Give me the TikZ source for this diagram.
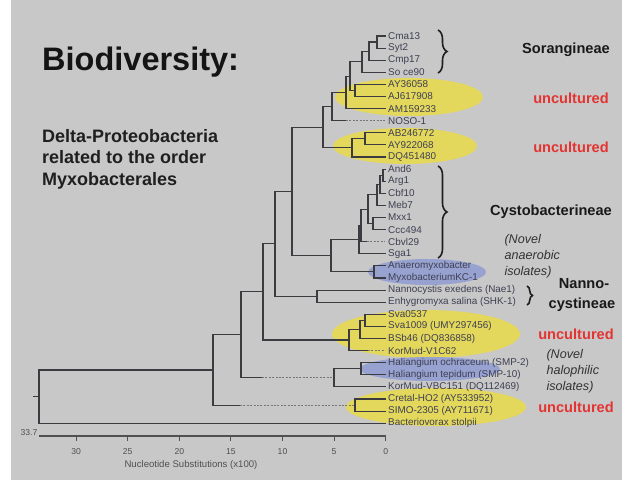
\documentclass[tikz,border=0pt]{standalone}
\usepackage{fontspec}
\setmainfont{Liberation Sans}
\usetikzlibrary{decorations.pathreplacing,calc}
\definecolor{bgc}{RGB}{200,200,200}
\definecolor{yelc}{RGB}{228,216,92}
\definecolor{bluc}{RGB}{152,162,208}
\definecolor{treec}{RGB}{60,60,64}
\definecolor{leafc}{RGB}{62,64,82}
\definecolor{redc}{RGB}{228,52,50}
\definecolor{axc}{RGB}{80,80,80}
\tikzset{
  leaf/.style={anchor=west, inner xsep=3pt, inner ysep=0pt, text=leafc, font=\fontsize{9.9}{10}\selectfont},
  br/.style={draw=treec, line width=1.1pt, line cap=rect},
  dsh/.style={draw=treec!70, line width=1.1pt, dash pattern=on 2pt off 1.4pt},
  grp/.style={font=\bfseries\fontsize{14.6}{16}\selectfont, text=black!90},
  unc/.style={font=\bfseries\fontsize{14.6}{16}\selectfont, text=redc},
  novel/.style={font=\itshape\fontsize{12.6}{16}\selectfont, text=black!80, align=left, anchor=west},
  brc/.style={draw=black!88, line width=1.6pt, decorate},
  tlab/.style={font=\fontsize{8.6}{10}\selectfont, text=axc}
}
\begin{document}
\begin{tikzpicture}[x=1pt,y=-1pt]
\useasboundingbox (0,0) rectangle (622,484);
\fill[white] (0,0) rectangle (622,484);
\fill[bgc] (11,0) rectangle (622,480);

% highlight ellipses
\fill[yelc] (409,97) ellipse [x radius=74pt, y radius=19pt];
\fill[yelc] (405,146) ellipse [x radius=72pt, y radius=18pt];
\fill[yelc] (426,334) ellipse [x radius=94pt, y radius=24pt];
\fill[yelc] (436,407) ellipse [x radius=90pt, y radius=19pt];
\fill[bluc] (427,272) ellipse [x radius=59pt, y radius=13pt];
\fill[bluc] (430,369) ellipse [x radius=70pt, y radius=12pt];

% titles
\node[anchor=base west, inner sep=0pt, font=\bfseries\fontsize{32.5}{36}\selectfont, text=black!92] (title) at (42,71) {Biodiversity:};
\node[anchor=north west, inner sep=0pt, align=left, font=\bfseries\fontsize{18}{21.5}\selectfont, text=black!88] (sub) at (42,129) {Delta-Proteobacteria\\related to the order\\Myxobacterales};

% leaves
\node[leaf] (L0) at (385,36.0) {Cma13};
\node[leaf] (L1) at (385,48.1) {Syt2};
\node[leaf] (L2) at (385,60.2) {Cmp17};
\node[leaf] (L3) at (385,72.3) {So ce90};
\node[leaf] (L4) at (385,84.4) {AY36058};
\node[leaf] (L5) at (385,96.5) {AJ617908};
\node[leaf] (L6) at (385,108.6) {AM159233};
\node[leaf] (L7) at (385,120.7) {NOSO-1};
\node[leaf] (L8) at (385,132.8) {AB246772};
\node[leaf] (L9) at (385,144.9) {AY922068};
\node[leaf] (L10) at (385,157.0) {DQ451480};
\node[leaf] (L11) at (385,169.1) {And6};
\node[leaf] (L12) at (385,181.2) {Arg1};
\node[leaf] (L13) at (385,193.3) {Cbf10};
\node[leaf] (L14) at (385,205.4) {Meb7};
\node[leaf] (L15) at (385,217.5) {Mxx1};
\node[leaf] (L16) at (385,229.6) {Ccc494};
\node[leaf] (L17) at (385,241.7) {Cbvl29};
\node[leaf] (L18) at (385,253.8) {Sga1};
\node[leaf] (L19) at (385,265.9) {Anaeromyxobacter};
\node[leaf] (L20) at (385,278.0) {MyxobacteriumKC-1};
\node[leaf] (L21) at (385,290.1) {Nannocystis exedens (Nae1)};
\node[leaf] (L22) at (385,302.2) {Enhygromyxa salina (SHK-1)};
\node[leaf] (L23) at (385,314.3) {Sva0537};
\node[leaf] (L24) at (385,326.4) {Sva1009 (UMY297456)};
\node[leaf] (L25) at (385,338.5) {BSb46 (DQ836858)};
\node[leaf] (L26) at (385,350.6) {KorMud-V1C62};
\node[leaf] (L27) at (385,362.7) {Haliangium ochraceum (SMP-2)};
\node[leaf] (L28) at (385,374.8) {Haliangium tepidum (SMP-10)};
\node[leaf] (L29) at (385,386.9) {KorMud-VBC151 (DQ112469)};
\node[leaf] (L30) at (385,399.0) {Cretal-HO2 (AY533952)};
\node[leaf] (L31) at (385,411.1) {SIMO-2305 (AY711671)};
\node[leaf] (L32) at (385,423.2) {Bacteriovorax stolpii};

% internal nodes
\coordinate (nCS) at (377,42.05);
\coordinate (nCSC) at (369,51.1);
\coordinate (nCSCS) at (362,61.7);
\coordinate (nAJ) at (355,90.45);
\coordinate (nSA) at (350,76.1);
\coordinate (nSAM) at (346,92.35);
\coordinate (nSN) at (332,106.5);
\coordinate (dNo) at (346,120.7);
\coordinate (nAB2) at (365,138.85);
\coordinate (nAB) at (352,147.9);
\coordinate (nTop) at (323,127.2);
\coordinate (nAA) at (383,175.15);
\coordinate (nAAC) at (380,184.2);
\coordinate (nAACM) at (377,194.8);
\coordinate (nMC) at (373,223.55);
\coordinate (nUp) at (368,209.2);
\coordinate (nCy1) at (361,225.45);
\coordinate (dCb) at (367,241.7);
\coordinate (nCy) at (359,239.6);
\coordinate (nAn) at (374,271.95);
\coordinate (n331) at (331,255.8);
\coordinate (n292) at (292,191.5);
\coordinate (nNa) at (317,296.15);
\coordinate (n275) at (275,243.8);
\coordinate (nSv3) at (365,320.35);
\coordinate (nSv2) at (360,329.4);
\coordinate (nSv) at (349,340);
\coordinate (dKo) at (368,350.6);
\coordinate (n263) at (263,291.9);
\coordinate (nHa2) at (361,368.75);
\coordinate (nHa) at (334,377.8);
\coordinate (dHa) at (262,377.8);
\coordinate (n241) at (241,334.9);
\coordinate (nCr) at (355,405.05);
\coordinate (dCr) at (240,405.05);
\coordinate (n213) at (213,370);
\coordinate (root) at (39,396.6);
\coordinate (stub) at (34,396.6);

% branches
\draw[br] (stub) -- (root);
\draw[br] (root) |- (n213);
\draw[br] (root) |- (L32.west);
\draw[br] (n213) |- (n241);
\draw[br] (n213) |- (dCr);
\draw[dsh] (dCr) -- (nCr);
\draw[br] (nCr) |- (L30.west);
\draw[br] (nCr) |- (L31.west);
\draw[br] (n241) |- (n263);
\draw[br] (n241) |- (dHa);
\draw[dsh] (dHa) -- (nHa);
\draw[br] (nHa) |- (nHa2);
\draw[br] (nHa) |- (L29.west);
\draw[br] (nHa2) |- (L27.west);
\draw[br] (nHa2) |- (L28.west);
\draw[br] (n263) |- (n275);
\draw[br] (n263) |- (nSv);
\draw[br] (nSv) |- (nSv2);
\draw[br] (nSv) |- (dKo);
\draw[dsh] (dKo) -- (L26.west);
\draw[br] (nSv2) |- (nSv3);
\draw[br] (nSv2) |- (L25.west);
\draw[br] (nSv3) |- (L23.west);
\draw[br] (nSv3) |- (L24.west);
\draw[br] (n275) |- (n292);
\draw[br] (n275) |- (nNa);
\draw[br] (nNa) |- (L21.west);
\draw[br] (nNa) |- (L22.west);
\draw[br] (n292) |- (nTop);
\draw[br] (n292) |- (n331);
\draw[br] (n331) |- (nCy);
\draw[br] (n331) |- (nAn);
\draw[br] (nAn) |- (L19.west);
\draw[br] (nAn) |- (L20.west);
\draw[br] (nCy) |- (nCy1);
\draw[br] (nCy) |- (L18.west);
\draw[br] (nCy1) |- (nUp);
\draw[br] (nCy1) |- (dCb);
\draw[dsh] (dCb) -- (L17.west);
\draw[br] (nUp) |- (nAACM);
\draw[br] (nUp) |- (nMC);
\draw[br] (nMC) |- (L15.west);
\draw[br] (nMC) |- (L16.west);
\draw[br] (nAACM) |- (nAAC);
\draw[br] (nAACM) |- (L14.west);
\draw[br] (nAAC) |- (nAA);
\draw[br] (nAAC) |- (L13.west);
\draw[br] (nAA) |- (L11.west);
\draw[br] (nAA) |- (L12.west);
\draw[br] (nTop) |- (nSN);
\draw[br] (nTop) |- (nAB);
\draw[br] (nAB) |- (nAB2);
\draw[br] (nAB) |- (L10.west);
\draw[br] (nAB2) |- (L8.west);
\draw[br] (nAB2) |- (L9.west);
\draw[br] (nSN) |- (nSAM);
\draw[br] (nSN) |- (dNo);
\draw[dsh] (dNo) -- (L7.west);
\draw[br] (nSAM) |- (nSA);
\draw[br] (nSAM) |- (L6.west);
\draw[br] (nSA) |- (nCSCS);
\draw[br] (nSA) |- (nAJ);
\draw[br] (nAJ) |- (L4.west);
\draw[br] (nAJ) |- (L5.west);
\draw[br] (nCSCS) |- (nCSC);
\draw[br] (nCSCS) |- (L3.west);
\draw[br] (nCSC) |- (nCS);
\draw[br] (nCSC) |- (L2.west);
\draw[br] (nCS) |- (L0.west);
\draw[br] (nCS) |- (L1.west);

% axis
\coordinate (ax0) at (39,436);
\coordinate (ax1) at (386,436);
\draw[draw=axc, line width=1.1pt] (ax0) -- (ax1);
\foreach \v in {0,5,...,30} {
  \draw[draw=axc, line width=1.1pt] ({385.7-10.32*\v},436) -- ++(0,4.5);
  \node[tlab] at ({385.7-10.32*\v},452) {\v};
}
\node[tlab, anchor=east, inner sep=0pt] (max) at (37.5,433) {33.7};
\node[tlab, font=\fontsize{9.6}{10}\selectfont] (axt) at (191,465) {Nucleotide Substitutions (x100)};

% braces
\draw[brc, decoration={brace, amplitude=9pt}] (438,30) -- (438,73);
\draw[brc, decoration={brace, amplitude=9pt}] (438,166) -- (438,258);
\draw[brc, decoration={brace, amplitude=5.5pt}] (527,286) -- (527,305);

% group labels
\node[grp] (sor) at (566,50) {Sorangineae};
\node[unc] (u1) at (571,98) {uncultured};
\node[unc] (u2) at (571,147) {uncultured};
\node[grp] (cys) at (551,212) {Cystobacterineae};
\node[novel] (nov1) at (501,256) {(Novel\\anaerobic\\isolates)};
\node[grp, align=center, font=\bfseries\fontsize{14.6}{20}\selectfont] (nan) at (582,295) {\hspace*{4pt}Nanno-\\cystineae};
\node[unc] (u3) at (576,334) {uncultured};
\node[novel] (nov2) at (543,371) {(Novel\\halophilic\\isolates)};
\node[unc] (u4) at (576,407) {uncultured};
\end{tikzpicture}
\end{document}
